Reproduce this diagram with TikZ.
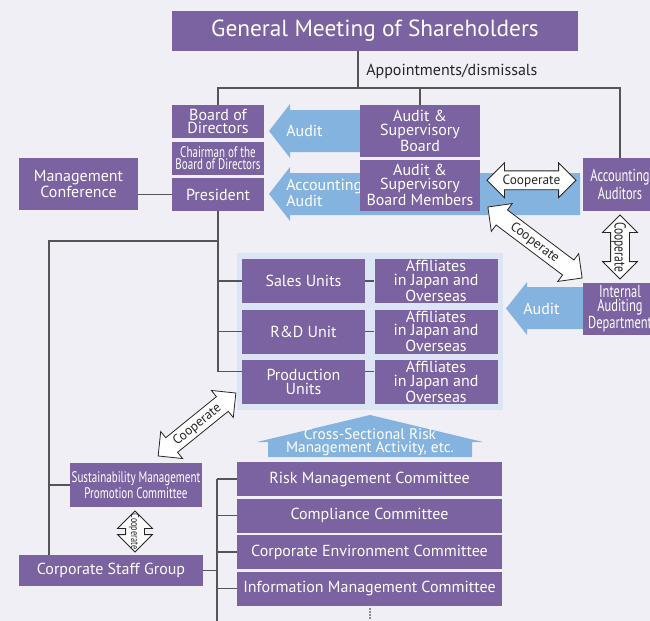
\documentclass[tikz,border=0pt]{standalone}
\usepackage{fontspec}
\setmainfont{PT Sans}
\newfontfamily\estrecha{PT Sans}[FakeStretch=0.72]
\usetikzlibrary{arrows.meta, positioning, calc, shapes.arrows}
\definecolor{fondo}{HTML}{F0EFF6}
\definecolor{morado}{HTML}{7B62A0}
\definecolor{azul}{HTML}{84B3E0}
\definecolor{panelazul}{HTML}{DCE5F5}
\definecolor{trazo}{HTML}{555555}
\newcommand{\tam}[2]{\fontsize{#1}{#2}\selectfont}
\newcommand{\sinancho}[1]{\makebox[0pt]{#1}}

\begin{document}
\begin{tikzpicture}[x=0.75pt, y=-0.75pt,
  caja/.style={fill=morado, text=white, inner sep=0pt, align=center,
               font=\tam{12}{10.2}},
  dim/.style 2 args={minimum width=#1*0.75pt, minimum height=#2*0.75pt},
  linea/.style={draw=trazo, line width=0.9pt},
  punteado/.style={draw=black!45, line width=1.5pt, dash pattern=on 1.5pt off 0.9pt},
  flechaazul/.style={fill=azul},
  textoazul/.style={text=white, align=left, inner sep=0pt, font=\tam{12}{10}},
  coopera/.style={double arrow, draw=black!85, fill=white, line width=0.6pt,
                  inner sep=0pt, text height=9.75pt, text depth=3.75pt,
                  double arrow head extend=6pt, double arrow head indent=0pt,
                  text=black!85, font=\tam{10}{10}},
  nota/.style={text=black!85, inner sep=0pt, font=\tam{12}{12}}
]
\useasboundingbox (0,0) rectangle (650,621);
\fill[fondo] (0,0) rectangle (650,621);

% Flechas de auditoría (por detrás de las cajas)
\fill[flechaazul] (362,110) -- (290,110) -- (290,104) -- (269,131) -- (290,158)
  -- (290,152) -- (362,152) -- cycle;
\fill[flechaazul] (580,173) -- (290,173) -- (290,167) -- (269,194) -- (290,221)
  -- (290,215) -- (580,215) -- cycle;
\fill[flechaazul] (585,287) -- (527,287) -- (527,282) -- (506,308.5) -- (527,335)
  -- (527,329) -- (585,329) -- cycle;
\fill[flechaazul] (268,457) -- (268,442) -- (257,442) -- (370,415) -- (483,442)
  -- (472,442) -- (472,457) -- cycle;

\node[textoazul, anchor=west] (tauditoria) at (286,131) {Audit};
\node[textoazul, anchor=west] (tcontable) at (286,193) {Accounting\\Audit};
\node[textoazul, anchor=west] (tinterna) at (523,308.5) {Audit};
\node[text=white, align=center, inner sep=0pt, font=\tam{11.5}{9.8}] (transversal)
  at (370,442.5) {Cross-Sectional Risk\\Management Activity, etc.};

% Órganos de gobierno
\node[caja, dim={406}{40}, font=\tam{17.5}{17}] (gms) at (375,31)
  {General Meeting of Shareholders};
\node[caja, dim={92}{33}] (bod) at (218,121.5) {Board of\\Directors};
\node[caja, dim={92}{33}, below=2.25pt of bod, font=\estrecha\tam{11.5}{9.5}] (chair)
  {Chairman of the\\Board of Directors};
\node[caja, dim={92}{33}, below=2.25pt of chair] (pres) {President};
\node[caja, dim={119}{52}] (mgmt) at (78.5,184) {Management\\Conference};
\node[caja, dim={120}{52}] (asb) at (420,131) {Audit \&\\Supervisory\\Board};
\node[caja, dim={120}{51}, below=1.5pt of asb] (asbm)
  {Audit \&\\Supervisory\\Board Members};
\node[caja, dim={74}{53}, font=\estrecha\tam{13}{10}] (acc) at (620,184.5)
  {Accounting\\Auditors};
\node[caja, dim={74}{52}, font=\estrecha\tam{13}{10.5}] (iad) at (620,309)
  {Internal\\Auditing\\Department};

% Unidades de negocio
\node[fill=panelazul, dim={266}{157}, inner sep=0pt] (grupo) at (370,331.5) {};
\node[caja, dim={123}{44}] (sales) at (303.5,281) {Sales Units};
\node[caja, dim={123}{44}, below=4.5pt of sales] (rnd) {R\&D Unit};
\node[caja, dim={123}{44}, below=4.5pt of rnd] (prod) {Production\\Units};
\node[caja, dim={123}{44}, right=6.75pt of sales] (aff1) {Affiliates\\in Japan and\\Overseas};
\node[caja, dim={123}{44}, right=6.75pt of rnd] (aff2) {Affiliates\\in Japan and\\Overseas};
\node[caja, dim={123}{44}, right=6.75pt of prod] (aff3) {Affiliates\\in Japan and\\Overseas};

% Staff y comités
\node[caja, dim={132}{44}, font=\estrecha\tam{11.5}{9.5}] (sust) at (136,485)
  {Sustainability Management\\Promotion Committee};
\node[caja, dim={184}{31}] (csg) at (111,570.5) {Corporate Staff Group};
\node[caja, dim={265}{34}] (risk) at (369.5,479) {Risk Management Committee};
\node[caja, dim={265}{34}, below=1.5pt of risk] (comp) {Compliance Committee};
\node[caja, dim={265}{34}, below=1.5pt of comp] (env) {Corporate Environment Committee};
\node[caja, dim={265}{34}, below=1.5pt of env] (info) {Information Management Committee};

% Líneas de dependencia
\coordinate (reparto) at (358,88);
\coordinate (izq) at (49,241);
\coordinate (ramaprod) at ($(prod.north west)+(0,12)$);
\coordinate (tronco) at (217,621);
\draw[linea] (gms.south -| reparto) -- (reparto);
\draw[linea] (bod.north) -- (bod.north |- reparto) -- (acc.north |- reparto) -- (acc.north);
\draw[linea] (asb.north |- reparto) -- (asb.north);
\node[nota, anchor=west] (nombra) at (366,71) {Appointments/dismissals};
\draw[linea] (pres.west) -- (pres.west -| mgmt.east);
\draw[linea] (pres.south) |- (ramaprod);
\draw[linea] (pres.south |- sales.west) -- (sales.west);
\draw[linea] (pres.south |- rnd.west) -- (rnd.west);
\draw[linea] (pres.south |- izq) -- (izq) -- (izq |- csg.north);
\draw[linea] (izq |- sust.west) -- (sust.west);
\draw[linea] (sales) -- (aff1);
\draw[linea] (rnd) -- (aff2);
\draw[linea] (ramaprod -| prod.east) -- (ramaprod -| aff3.west);
\draw[linea] (csg.east) -- (csg.east -| tronco);
\draw[linea] (tronco |- risk.west) -- (tronco);
\foreach \c in {risk,comp,env,info}
  \draw[linea] (tronco |- \c.west) -- (\c.west);
\draw[punteado] ($(info.south)+(0,2)$) -- (info.south |- tronco);

% Cooperación
\node[coopera, minimum height=89*0.75pt] (c1)
  at ($(asbm.east)!0.5!(acc.west)+(0,-4.5)$) {\sinancho{Cooperate}};
\node[coopera, minimum height=118*0.75pt, rotate=-37] (c2)
  at (535,242.5) {\sinancho{Cooperate}};
\node[coopera, minimum height=64*0.75pt, rotate=-90, font=\estrecha\tam{12}{12},
      text height=10.75pt, text depth=2.75pt] (c3)
  at ($(acc.south)!0.5!(iad.north)$) {\sinancho{Cooperate}};
\node[coopera, minimum height=100*0.75pt, rotate=39] (c4)
  at (197,424.5) {\sinancho{Cooperate}};
\node[coopera, minimum height=41*0.75pt, rotate=-90, font=\estrecha\tam{8.5}{8.5},
      text height=9.75pt, text depth=3.75pt] (c5)
  at (135,531.5) {\sinancho{Cooperate}};

\end{tikzpicture}
\end{document}
